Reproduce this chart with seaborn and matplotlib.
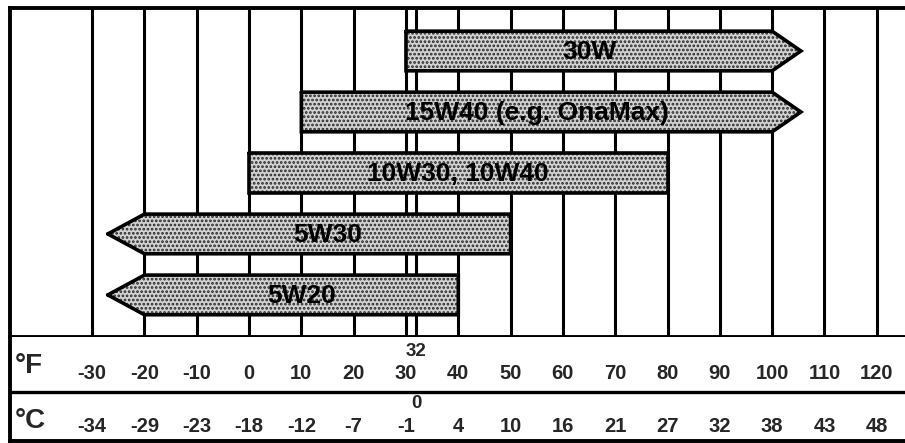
import pandas as pd
import seaborn as sns
import matplotlib.pyplot as plt
import matplotlib.transforms as mtransforms

# oil grades and the temperature range (deg F) each one is good for
grades = ["30W", "15W40 (e.g. OnaMax)", "10W30, 10W40", "5W30", "5W20"]
low_f = [30, 10, 0, -20, -20]
high_f = [100, 100, 80, 50, 40]
open_side = ["right", "right", "", "left", "left"]

# scale rows under the chart
temp_f = [-30, -20, -10, 0, 10, 20, 30, 40, 50, 60, 70, 80, 90, 100, 110, 120]
temp_c = [-34, -29, -23, -18, -12, -7, -1, 4, 10, 16, 21, 27, 32, 38, 43, 48]
freeze_f = 32
freeze_c = 0

sns.set_style("white")
plt.rcParams["font.family"] = ["Liberation Sans", "DejaVu Sans"]
plt.rcParams["hatch.linewidth"] = 1.3

W, H = 905, 443
fig = plt.figure(figsize=(W / 100, H / 100), dpi=100)
ax = fig.add_axes([10 / W, 1 - 337 / H, 1 - 10 / W, 329 / H])
tab = fig.add_axes([10 / W, 1 - 441 / H, 1 - 10 / W, 104 / H], sharex=ax)

df = pd.DataFrame({"grade": grades, "low": low_f, "high": high_f, "side": open_side})
df["span"] = df["high"] - df["low"]

bar_h = 0.65
fill = "#d2d2d2"
dots = "#262626"
pattern = "...."
tip = {"right": 5.5, "left": 7.0}

# vertical grid, one line per scale value plus freezing point
for f in temp_f + [freeze_f]:
    ax.axvline(f, color="black", lw=2.2, zorder=1)

# bar bodies
sns.barplot(data=df, x="span", y="grade", left=df["low"].to_numpy(), orient="h",
            width=bar_h, color=fill, edgecolor=dots, linewidth=0, hatch=pattern,
            saturation=1, errorbar=None, ax=ax, zorder=2)

# arrow heads and outlines
for i, r in df.iterrows():
    top, bot = i - bar_h / 2, i + bar_h / 2
    if r.side == "right":
        t = r.high + tip["right"]
        ax.fill([r.high - 0.3, t, r.high - 0.3], [top, i, bot], facecolor=fill,
                edgecolor=dots, lw=0, hatch=pattern, zorder=2)
        xs = [r.low, r.high, t, r.high, r.low, r.low]
        ys = [top, top, i, bot, bot, top]
    elif r.side == "left":
        t = r.low - tip["left"]
        ax.fill([r.low + 0.3, t, r.low + 0.3], [top, i, bot], facecolor=fill,
                edgecolor=dots, lw=0, hatch=pattern, zorder=2)
        xs = [t, r.low, r.high, r.high, r.low, t]
        ys = [i, top, top, bot, bot, i]
    else:
        xs = [r.low, r.high, r.high, r.low, r.low]
        ys = [top, top, bot, bot, top]
    ax.plot(xs, ys, color="black", lw=2.6, solid_joinstyle="miter", zorder=3)
    ax.text((r.low + r.high) / 2, i + 0.02, r.grade, ha="center", va="center",
            fontsize=19, fontweight="bold", color="black", zorder=4)

ax.set_xlim(-45.7, 125.4)
ax.set_ylim(4.69, -0.705)
ax.set_xlabel("")
ax.set_ylabel("")
ax.set_yticks([])

# temperature table
tab.set_ylim(441, 337)
tab.set_yticks([])
tab.set_xticks([])
for f, c in zip(temp_f, temp_c):
    tab.text(f, 374, str(f), ha="center", va="center", fontsize=14.5, fontweight="bold")
    tab.text(f, 427, str(c), ha="center", va="center", fontsize=14.5, fontweight="bold")
tab.text(freeze_f, 352, str(freeze_f), ha="center", va="center", fontsize=13.5, fontweight="bold")
tab.text(freeze_f, 404, str(freeze_c), ha="center", va="center", fontsize=13.5, fontweight="bold")

trans = mtransforms.blended_transform_factory(tab.transAxes, tab.transData)
tab.text(0.005, 366, "°F", transform=trans, ha="left", va="center", fontsize=20, fontweight="bold")
tab.text(0.005, 421, "°C", transform=trans, ha="left", va="center", fontsize=20, fontweight="bold")
tab.axhline(392, color="black", lw=2.4)

for a in (ax, tab):
    a.spines["right"].set_visible(False)
    for s in ("left", "top", "bottom"):
        a.spines[s].set_color("black")
        a.spines[s].set_linewidth(2.8)
tab.spines["top"].set_visible(False)

fig.savefig("out.png", dpi=100)
